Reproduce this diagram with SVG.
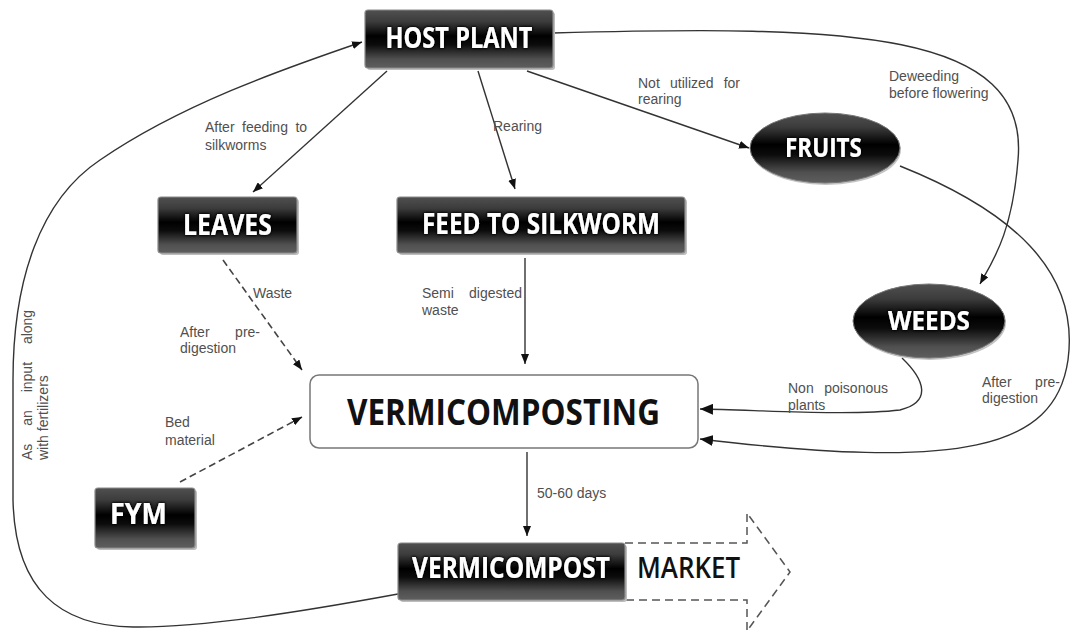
<svg xmlns="http://www.w3.org/2000/svg" width="1072" height="632" viewBox="0 0 1072 632">
<defs>
<linearGradient id="dark" x1="0" y1="0" x2="0" y2="1">
<stop offset="0" stop-color="#505050"/>
<stop offset="0.2" stop-color="#3c3c3c"/>
<stop offset="0.45" stop-color="#000"/>
<stop offset="0.6" stop-color="#0c0c0c"/>
<stop offset="0.85" stop-color="#505050"/>
<stop offset="1" stop-color="#5e5e5e"/>
</linearGradient>
<filter id="glow" x="-10%" y="-30%" width="120%" height="160%">
<feGaussianBlur in="SourceAlpha" stdDeviation="1.5" result="b"/>
<feMerge><feMergeNode in="b"/><feMergeNode in="b"/><feMergeNode in="SourceGraphic"/></feMerge>
</filter>
<marker id="ah" viewBox="0 0 10 8" refX="10" refY="4" markerWidth="10" markerHeight="8" markerUnits="userSpaceOnUse" orient="auto">
<path d="M0,0 L10,4 L0,8 z" fill="#111"/>
</marker>
<marker id="ahb" viewBox="0 0 12 10" refX="12" refY="5" markerWidth="13" markerHeight="11" markerUnits="userSpaceOnUse" orient="auto">
<path d="M0,0 L12,5 L0,10 z" fill="#111"/>
</marker>
</defs>
<style>
.box{fill:url(#dark);stroke:#8a8a8a;stroke-width:1.2}
.shadow{fill:#bdbdbd}
.bt{font-family:"Open Sans","Liberation Sans",sans-serif;font-weight:700;fill:#fff;text-anchor:middle}
.lbl{font-family:"Liberation Sans",Arial,sans-serif;font-size:14px;fill:#505050}
.e{text-anchor:end}
.c{fill:none;stroke:#333;stroke-width:1.4}
.d{fill:none;stroke:#444;stroke-width:1.6;stroke-dasharray:7 4}
</style>
<rect width="1072" height="632" fill="#fff"/>

<g id="connectors">
<path class="c" d="M398,594 C300,612 200,628 133,627 C60,626 15,590 13,500 L13,380 C13,280 40,200 100,160 C180,105 280,70 362,42" marker-end="url(#ah)"/>
<line class="c" x1="387" y1="71" x2="253" y2="192" marker-end="url(#ah)"/>
<line class="c" x1="478" y1="71" x2="515" y2="189" marker-end="url(#ah)"/>
<line class="c" x1="527" y1="71" x2="749" y2="148" marker-end="url(#ah)"/>
<path class="c" d="M553,33 C850,25 1030,30 1018,160 C1012,235 992,262 980,284" marker-end="url(#ah)"/>
<path class="c" d="M900,166 C1010,210 1080,270 1068,360 C1055,450 960,470 700,439" marker-end="url(#ahb)"/>
<path class="c" d="M902,358 C925,380 932,402 900,410 C850,416 760,410 700,409" marker-end="url(#ahb)"/>
<line class="c" x1="525" y1="258" x2="525" y2="364" marker-end="url(#ah)"/>
<line class="c" x1="527" y1="452" x2="527" y2="536" marker-end="url(#ah)"/>
<line class="d" x1="223" y1="260" x2="302" y2="370" marker-end="url(#ah)"/>
<line class="d" x1="180" y1="482" x2="302" y2="417" marker-end="url(#ah)"/>
</g>

<g id="labels">
<text class="lbl" y="132"><tspan x="205">After</tspan><tspan x="242">feeding</tspan><tspan x="295.4">to</tspan></text>
<text class="lbl" x="205" y="150">silkworms</text>
<text class="lbl" x="493" y="131">Rearing</text>
<text class="lbl" y="88"><tspan x="638">Not</tspan><tspan x="670">utilized</tspan><tspan x="723.7">for</tspan></text>
<text class="lbl" x="638" y="104">rearing</text>
<text class="lbl" x="889" y="81">Deweeding</text>
<text class="lbl" x="889" y="98">before flowering</text>
<text class="lbl" x="253" y="298">Waste</text>
<text class="lbl" x="180" y="337">After</text>
<text class="lbl e" x="260" y="337">pre-</text>
<text class="lbl" x="180" y="353">digestion</text>
<text class="lbl" x="165" y="427">Bed</text>
<text class="lbl" x="165" y="445">material</text>
<text class="lbl" x="422" y="298">Semi</text>
<text class="lbl e" x="522" y="298">digested</text>
<text class="lbl" x="422" y="315">waste</text>
<text class="lbl" x="788" y="393">Non</text>
<text class="lbl e" x="888" y="393">poisonous</text>
<text class="lbl" x="788" y="410">plants</text>
<text class="lbl" x="982" y="387">After</text>
<text class="lbl e" x="1060" y="387">pre-</text>
<text class="lbl" x="982" y="403">digestion</text>
<text class="lbl" x="537" y="498">50-60 days</text>
<text class="lbl" transform="translate(32,460) rotate(-90)"><tspan x="0">As</tspan><tspan x="34.3">an</tspan><tspan x="67.7">input</tspan><tspan x="115.9">along</tspan></text>
<text class="lbl" transform="translate(48,460) rotate(-90)">with fertilizers</text>
</g>

<g id="host-plant">
<rect class="shadow" x="367" y="12" width="188" height="58" rx="3"/>
<rect class="box" x="365" y="10" width="188" height="58" rx="3"/>
<text class="bt" x="459" y="48" font-size="28" textLength="147" lengthAdjust="spacingAndGlyphs" filter="url(#glow)">HOST PLANT</text>
</g>

<g id="leaves">
<rect class="shadow" x="160" y="199" width="139" height="56" rx="3"/>
<rect class="box" x="158" y="197" width="139" height="56" rx="3"/>
<text class="bt" x="227.5" y="235" font-size="29" textLength="89" lengthAdjust="spacingAndGlyphs" filter="url(#glow)">LEAVES</text>
</g>

<g id="feed-to-silkworm">
<rect class="shadow" x="399" y="199" width="288" height="56" rx="3"/>
<rect class="box" x="397" y="197" width="288" height="56" rx="3"/>
<text class="bt" x="541" y="234" font-size="28" textLength="238" lengthAdjust="spacingAndGlyphs" filter="url(#glow)">FEED TO SILKWORM</text>
</g>

<g id="fruits">
<ellipse cx="826" cy="150" rx="75" ry="35" fill="#c4c4c4"/>
<ellipse cx="825" cy="148" rx="75" ry="35" fill="url(#dark)" stroke="#777" stroke-width="1"/>
<text class="bt" x="823.5" y="157" font-size="27" textLength="77" lengthAdjust="spacingAndGlyphs" filter="url(#glow)">FRUITS</text>
</g>

<g id="weeds">
<ellipse cx="930" cy="323" rx="76" ry="37" fill="#c4c4c4"/>
<ellipse cx="929" cy="321" rx="76" ry="37" fill="url(#dark)" stroke="#777" stroke-width="1"/>
<text class="bt" x="929" y="330" font-size="27" textLength="82" lengthAdjust="spacingAndGlyphs" filter="url(#glow)">WEEDS</text>
</g>

<g id="vermicomposting">
<rect x="310" y="375" width="388" height="73" rx="9" fill="#fff" stroke="#777" stroke-width="1.5"/>
<text x="503.5" y="425" font-family="Open Sans, Liberation Sans, sans-serif" font-weight="700" font-size="35" fill="#111" text-anchor="middle" textLength="313" lengthAdjust="spacingAndGlyphs">VERMICOMPOSTING</text>
</g>

<g id="fym">
<rect class="shadow" x="97" y="490" width="100" height="60" rx="3"/>
<rect class="box" x="95" y="488" width="100" height="60" rx="3"/>
<text class="bt" x="138.5" y="524" font-size="29" textLength="57" lengthAdjust="spacingAndGlyphs" filter="url(#glow)">FYM</text>
</g>

<g id="market">
<path d="M625,543 L747,543 L747,513 L790,572 L747,631 L747,600 L625,600" fill="none" stroke="#555" stroke-width="1.5" stroke-dasharray="8 5"/>
<text x="637" y="578" font-family="Open Sans, Liberation Sans, sans-serif" font-weight="600" font-size="28" fill="#111" textLength="103" lengthAdjust="spacingAndGlyphs">MARKET</text>
</g>

<g id="vermicompost">
<rect class="shadow" x="400" y="545" width="227" height="57" rx="3"/>
<rect class="box" x="398" y="543" width="227" height="57" rx="3"/>
<text class="bt" x="511" y="578" font-size="28" textLength="198" lengthAdjust="spacingAndGlyphs" filter="url(#glow)">VERMICOMPOST</text>
</g>
</svg>
